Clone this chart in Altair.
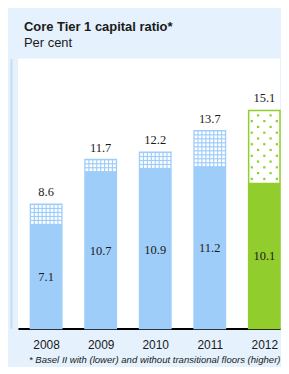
import altair as alt
import pandas as pd

years = ["2008", "2009", "2010", "2011", "2012"]
lower = [7.1, 10.7, 10.9, 11.2, 10.1]
higher = [8.6, 11.7, 12.2, 13.7, 15.1]
kinds = ["hist", "hist", "hist", "hist", "new"]

solid_col = {"hist": "#9fcdfa", "new": "#92cd2e"}
hatch_bg = {"hist": "#9fcdfa", "new": "#ffffff"}
dot_col = {"hist": "#ffffff", "new": "#92cd2e"}
dot_size = {"hist": 7.8, "new": 5}

HALF = 0.2875  # half bar width, in category-step units

df = pd.DataFrame({"year": years, "lower": lower, "higher": higher, "kind": kinds})
df["i"] = range(len(years))
df["x0"] = df["i"] - HALF
df["x1"] = df["i"] + HALF
df["half"] = df["lower"] / 2
df["solid"] = df["kind"].map(solid_col)
df["hbg"] = df["kind"].map(hatch_bg)
df["zero"] = 0.0

# decorative dot pattern for the upper (hatched) segment
rows = []
for i, (lo, hi, k) in enumerate(zip(lower, higher, kinds)):
    if k == "hist":
        step, ncol, stagger = 0.276, 8, False
        yy = hi - 0.55 * step
    else:
        step, ncol, stagger = 0.40, 5, True
        yy = hi - 0.85 * step
    r = 0
    while yy > lo + 0.3 * step:
        for c in range(ncol):
            if (not stagger) or ((c + r) % 2 == 1):
                rows.append({"px": i - HALF + 2 * HALF * (c + 0.5) / ncol, "v": yy,
                             "dc": dot_col[k], "sz": dot_size[k]})
        r += 1
        yy -= step
dots = pd.DataFrame(rows)

W, H = 263, 271
xscale = alt.Scale(domain=[4 + HALF - W / 54.75, 4 + HALF], nice=False, zero=False)
yscale = alt.Scale(domain=[0, 18.7], nice=False)

label_expr = "[" + ",".join("'%s'" % y for y in years) + "][datum.value]"
x_axis = alt.Axis(title="* Basel II with (lower) and without transitional floors (higher)",
                  values=list(range(len(years))), labelExpr=label_expr,
                  labelAngle=0, ticks=False, grid=False, domain=True, domainColor="#000000",
                  domainWidth=2, labelFont="Liberation Sans", labelFontSize=12,
                  labelColor="#1a1a1a", labelPadding=11, labelFlush=False,
                  titleFont="Liberation Sans", titleFontSize=9.6,
                  titleFontStyle="italic", titleFontWeight="normal",
                  titleColor="#1a1a1a", titleAnchor="end", titlePadding=4)

# y axis used only for the thin vertical stripe at the panel's left edge
y_stripe = alt.Axis(title=None, labels=False, ticks=False, grid=False, domain=True,
                    domainColor="#c3ddf5", domainWidth=2, offset=7)

base = alt.Chart(df)

hatch = base.mark_rect(strokeWidth=1.5).encode(
    x=alt.X("x0:Q", scale=xscale, axis=x_axis),
    x2="x1:Q",
    y=alt.Y("higher:Q", scale=yscale, axis=y_stripe),
    y2="zero:Q",
    fill=alt.Fill("hbg:N", scale=None),
    stroke=alt.Stroke("solid:N", scale=None),
)

dot_layer = alt.Chart(dots).mark_square(opacity=1, strokeWidth=0).encode(
    x=alt.X("px:Q", scale=xscale),
    y=alt.Y("v:Q", scale=yscale),
    color=alt.Color("dc:N", scale=None),
    size=alt.Size("sz:Q", scale=None),
)

solid = base.mark_rect().encode(
    x=alt.X("x0:Q", scale=xscale),
    x2="x1:Q",
    y=alt.Y("lower:Q", scale=yscale),
    y2="zero:Q",
    fill=alt.Fill("solid:N", scale=None),
)

top_text = base.mark_text(baseline="bottom", dy=-5, font="Liberation Serif",
                          fontSize=12.5, color="#1a1a1a").encode(
    x=alt.X("i:Q", scale=xscale),
    y=alt.Y("higher:Q", scale=yscale),
    text=alt.Text("higher:Q", format=".1f"),
)

in_text = base.mark_text(baseline="middle", font="Liberation Serif",
                         fontSize=12.5, color="#1a1a1a").encode(
    x=alt.X("i:Q", scale=xscale),
    y=alt.Y("half:Q", scale=yscale),
    text=alt.Text("lower:Q", format=".1f"),
)

chart = alt.layer(hatch, dot_layer, solid, top_text, in_text).properties(
    width=W, height=H,
    background="#e5f1fc",
    padding={"left": 3, "top": 12, "right": 0, "bottom": 2},
    title=alt.TitleParams(
        text="Core Tier 1 capital ratio*", subtitle="Per cent",
        anchor="start", frame="group", dx=6, offset=9,
        font="Liberation Sans", fontSize=13, fontWeight="bold", color="#1a1a1a",
        subtitleFont="Liberation Sans", subtitleFontSize=13, subtitleColor="#1a1a1a",
        subtitlePadding=3,
    ),
).configure_view(stroke=None, fill="#ffffff")

chart.save("out.html", embed_options={"renderer": "svg", "actions": False})
